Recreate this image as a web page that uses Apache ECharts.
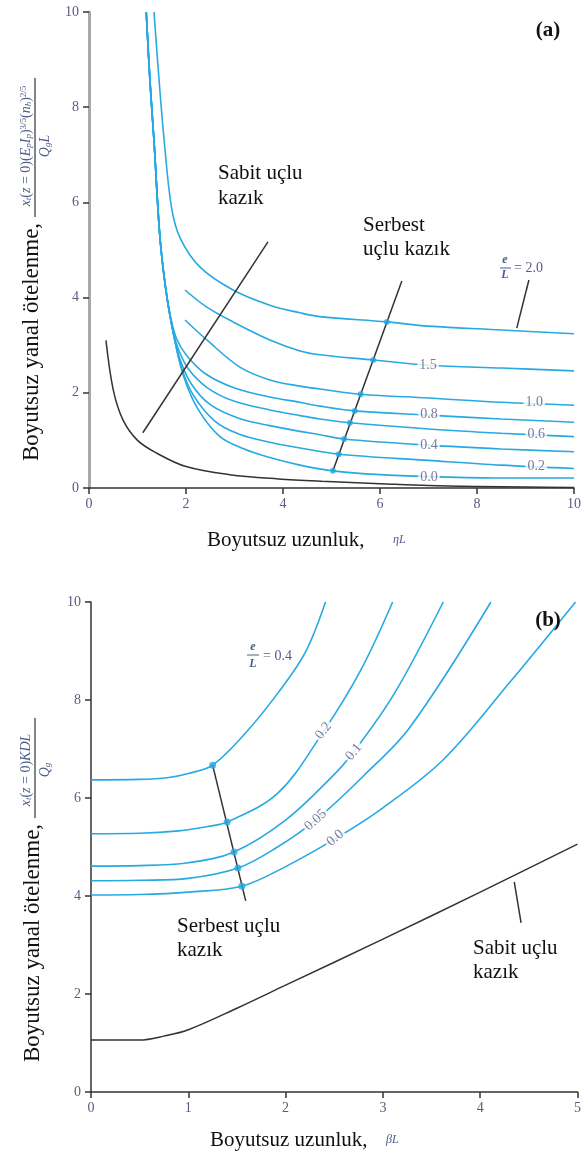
<!DOCTYPE html>
<html><head><meta charset="utf-8">
<script src="https://cdn.jsdelivr.net/npm/echarts@6/dist/echarts.min.js"></script>
<style>html,body{margin:0;padding:0;background:#fff}#c{width:584px;height:1156px}</style>
</head><body><div id="c"></div>
<script>
// ---------- Chart (a) data: x = ηL, y = dimensionless displacement ----------
const aTicksX = [0, 2, 4, 6, 8, 10];
const aTicksY = [0, 2, 4, 6, 8, 10];
const aFixedHead = [[0.35,3.1],[0.5,2.06],[0.7,1.43],[1.0,1.0],[1.4,0.73],[2.0,0.45],[2.9,0.28],[3.9,0.19],[4.8,0.14],[6,0.09],[7,0.05],[8,0.03],[9,0.02],[10,0.01]];
const aE20 = [[1.34,10],[1.45,8.5],[1.55,7.3],[1.7,5.9],[1.88,5.25],[2.29,4.64],[2.97,4.16],[3.73,3.84],[4.35,3.68],[4.76,3.6],[6.14,3.49],[7,3.4],[8.5,3.32],[10,3.24]];
const aE15 = [[1.98,4.16],[2.43,3.8],[2.97,3.49],[3.73,3.11],[4.35,2.88],[4.76,2.8],[5.86,2.69],[7,2.58],[8.5,2.52],[10,2.46]];
const aE10 = [[1.98,3.53],[2.43,3.11],[3.11,2.54],[3.73,2.27],[4.35,2.14],[4.76,2.08],[5.6,1.97],[7,1.89],[8.5,1.8],[10,1.74]];
const aE08 = [[1.18,10],[1.26,8.5],[1.34,7.3],[1.46,5.3],[1.58,4.2],[1.68,3.6],[1.8,3.15],[2.0,2.8],[2.4,2.4],[3.0,2.1],[3.73,1.91],[4.35,1.8],[4.76,1.72],[5.48,1.62],[7,1.53],[8.5,1.45],[10,1.38]];
const aE06 = [[1.18,10],[1.26,8.5],[1.34,7.3],[1.46,5.3],[1.58,4.2],[1.7,3.45],[1.83,2.95],[2.05,2.5],[2.45,2.1],[3.0,1.82],[3.73,1.64],[4.35,1.52],[4.76,1.45],[5.38,1.37],[7,1.24],[8.5,1.15],[10,1.08]];
const aE04 = [[1.18,10],[1.26,8.5],[1.34,7.3],[1.46,5.3],[1.58,4.2],[1.72,3.35],[1.86,2.75],[2.1,2.2],[2.5,1.75],[3.1,1.46],[3.73,1.31],[4.35,1.19],[4.76,1.12],[5.26,1.03],[7,0.9],[8.5,0.82],[10,0.76]];
const aE02 = [[1.18,10],[1.26,8.5],[1.34,7.3],[1.46,5.3],[1.58,4.2],[1.74,3.25],[1.9,2.55],[2.15,1.95],[2.6,1.4],[3.1,1.13],[3.73,0.96],[4.35,0.84],[5.15,0.71],[7,0.58],[8.5,0.48],[10,0.41]];
const aE00 = [[1.18,10],[1.26,8.5],[1.34,7.3],[1.46,5.3],[1.58,4.2],[1.76,3.15],[1.95,2.35],[2.25,1.65],[2.7,1.08],[3.2,0.82],[3.73,0.64],[4.35,0.48],[5.03,0.36],[6,0.28],[7,0.24],[8.5,0.21],[10,0.21]];
const aFreeLine = [[5.03,0.36],[6.45,4.35]];
const aFreeDots = [[6.14,3.49],[5.86,2.69],[5.6,1.97],[5.48,1.62],[5.38,1.37],[5.26,1.03],[5.15,0.71],[5.03,0.36]];
const aFixedLeader = [[1.11,1.16],[3.69,5.17]];
const aE20Leader = [[9.07,4.37],[8.82,3.36]];
const aCurveLabels = ['1.5','1.0','0.8','0.6','0.4','0.2','0.0'];
const aCurveLabelPos = [[6.99,2.58],[9.18,1.79],[7.01,1.55],[9.22,1.13],[7.01,0.9],[9.22,0.46],[7.01,0.23]];

// ---------- Chart (b) data: x = βL ----------
const bTicksX = [0, 1, 2, 3, 4, 5];
const bTicksY = [0, 2, 4, 6, 8, 10];
const bFixedHead = [[0,1.06],[0.5,1.06],[0.75,1.14],[1.0,1.27],[1.5,1.71],[2,2.18],[3,3.12],[4,4.08],[5,5.06]];
const bE04 = [[0,6.37],[0.5,6.38],[0.8,6.42],[1.0,6.5],[1.25,6.67],[1.59,7.33],[1.92,8.14],[2.2,8.96],[2.41,10]];
const bE02 = [[0,5.27],[0.5,5.28],[0.9,5.33],[1.2,5.42],[1.4,5.51],[1.92,6.1],[2.38,7.33],[2.77,8.6],[3.1,10]];
const bE01 = [[0,4.61],[0.5,4.62],[1.0,4.68],[1.47,4.9],[2.0,5.55],[2.46,6.4],[2.70,6.94],[3.12,8.14],[3.62,10]];
const bE005 = [[0,4.31],[0.5,4.32],[1.0,4.36],[1.51,4.57],[1.9,4.98],[2.31,5.55],[2.8,6.45],[3.28,7.45],[4.11,10]];
const bE00 = [[0,4.02],[0.5,4.03],[1.0,4.08],[1.55,4.2],[2.0,4.6],[2.52,5.18],[3.0,5.8],[3.62,6.78],[4.3,8.35],[4.98,10]];
const bFreeLine = [[1.25,6.67],[1.59,3.9]];
const bFreeDots = [[1.25,6.67],[1.40,5.51],[1.47,4.9],[1.51,4.57],[1.55,4.2]];
const bFixedLeader = [[4.35,4.29],[4.42,3.45]];
const bCurveLabels = ['0.2','0.1','0.05','0.0'];
const bCurveLabelPos = [[2.39,7.37],[2.70,6.94],[2.31,5.55],[2.51,5.18]];
const bCurveLabelRot = [52, 50, 42, 40];

// ---------- styling ----------
const BLUE = '#27a9e1';
const DARK = '#333';
const TXT = '#111';
const LBL = '#5b5a83';
const SERIF = '"Liberation Serif", "DejaVu Serif", serif';

function curve(gi, data, color, width, z) {
  return {type:'line', xAxisIndex:gi, yAxisIndex:gi, data:data, showSymbol:false, smooth:0.35,
    lineStyle:{color:color, width:width}, z:z||2, silent:true, clip:true};
}
function straight(gi, data) {
  return {type:'line', xAxisIndex:gi, yAxisIndex:gi, data:data, showSymbol:false, smooth:false,
    lineStyle:{color:DARK, width:1.5}, z:3, silent:true};
}
function dots(gi, data, size) {
  return {type:'scatter', xAxisIndex:gi, yAxisIndex:gi, data:data, symbolSize:size,
    itemStyle:{color:BLUE}, z:5, silent:true};
}
function gapLabels(gi, pos, texts, rots, fs) {
  return {type:'scatter', xAxisIndex:gi, yAxisIndex:gi, symbolSize:1, z:8, silent:true,
    itemStyle:{color:'rgba(0,0,0,0)'},
    data: pos.map((p,i)=>({value:p, label:{show:true, position:'inside', formatter:texts[i],
      rotate: rots ? rots[i] : 0, color:LBL, fontFamily:SERIF, fontSize:fs,
      backgroundColor:'#fff', padding:[0,2]}}))};
}
function xAx(gi, min, max, interval) {
  return {type:'value', gridIndex:gi, min:min, max:max, interval:interval,
    axisLine:{show:true, onZero:false, lineStyle:{color:DARK, width:1.5}},
    axisTick:{show:true, length:6, lineStyle:{color:DARK, width:1.5}},
    axisLabel:{color:LBL, fontFamily:SERIF, fontSize:14, margin:9},
    splitLine:{show:false}};
}
function yAx(gi, lineColor, lineWidth) {
  return {type:'value', gridIndex:gi, min:0, max:10, interval:2,
    axisLine:{show:true, onZero:false, lineStyle:{color:lineColor, width:lineWidth}},
    axisTick:{show:true, length:6, lineStyle:{color:DARK, width:1.5}},
    axisLabel:{color:LBL, fontFamily:SERIF, fontSize:14, margin:10},
    splitLine:{show:false}};
}

const chart = echarts.init(document.getElementById('c'), null, {renderer:'canvas'});

const series = [
  curve(0, aFixedHead, DARK, 1.5, 3),
  curve(0, aE20, BLUE, 1.6), curve(0, aE15, BLUE, 1.6), curve(0, aE10, BLUE, 1.6),
  curve(0, aE08, BLUE, 1.6), curve(0, aE06, BLUE, 1.6), curve(0, aE04, BLUE, 1.6),
  curve(0, aE02, BLUE, 1.6), curve(0, aE00, BLUE, 1.6),
  straight(0, aFreeLine), straight(0, aFixedLeader), straight(0, aE20Leader),
  dots(0, aFreeDots, 6),
  gapLabels(0, aCurveLabelPos, aCurveLabels, null, 14),

  curve(1, bFixedHead, DARK, 1.5, 3),
  curve(1, bE04, BLUE, 1.6), curve(1, bE02, BLUE, 1.6), curve(1, bE01, BLUE, 1.6),
  curve(1, bE005, BLUE, 1.6), curve(1, bE00, BLUE, 1.6),
  straight(1, bFreeLine), straight(1, bFixedLeader),
  dots(1, bFreeDots, 7),
  gapLabels(1, bCurveLabelPos, bCurveLabels, bCurveLabelRot, 14)
];

function T(x, y, text, font, fill, align, extra) {
  const st = {text:text, font:font, fill:fill||TXT, align:align||'left', textAlign:align||'left',
    verticalAlign:'middle', textVerticalAlign:'middle'};
  if (extra) Object.assign(st, extra);
  return {type:'text', x:x, y:y, style:st, z:20};
}
function RT(x, y, text, font, fill, extra) {
  const el = T(x, y, text, font, fill, 'center', extra);
  el.rotation = Math.PI/2;
  return el;
}
function L(x1, y1, x2, y2, color, w) {
  return {type:'line', shape:{x1:x1,y1:y1,x2:x2,y2:y2}, style:{stroke:color||TXT, lineWidth:w||1}, z:20};
}

const FCOL = '#4f5f8c';
const fracRich = {
  i:{fontFamily:SERIF, fontStyle:'italic', fontSize:14, fill:FCOL, color:FCOL},
  n:{fontFamily:SERIF, fontSize:14, fill:FCOL, color:FCOL},
  s:{fontFamily:SERIF, fontStyle:'italic', fontSize:9, fill:FCOL, color:FCOL, verticalAlign:'bottom'},
  u:{fontFamily:SERIF, fontSize:9, fill:FCOL, color:FCOL, verticalAlign:'top'}
};
const smallRich = {
  i:{fontFamily:SERIF, fontStyle:'italic', fontSize:12, fill:FCOL, color:FCOL}
};
const annFont = '21px ' + SERIF;

const graphic = [
  // panel tags
  T(548, 31, '(a)', 'bold 21px ' + SERIF, TXT, 'center'),
  T(548, 621, '(b)', 'bold 21px ' + SERIF, TXT, 'center'),
  // y titles
  RT(32, 342, 'Boyutsuz yanal ötelenme,', '23px ' + SERIF, TXT),
  RT(33, 943, 'Boyutsuz yanal ötelenme,', '23px ' + SERIF, TXT),
  // formula (a)
  RT(26, 146, '{i|x}{s|t}{n|(}{i|z}{n| = 0)(}{i|E}{s|p}{i|I}{s|p}{n|)}{u|3/5}{n|(}{i|n}{s|h}{n|)}{u|2/5}', '14px ' + SERIF, FCOL, {rich:fracRich}),
  L(35, 78, 35, 217, '#333', 1.2),
  RT(45, 146, '{i|Q}{s|g}{i|L}', '14px ' + SERIF, FCOL, {rich:fracRich}),
  // formula (b)
  RT(26, 770, '{i|x}{s|t}{n|(}{i|z}{n| = 0)}{i|KDL}', '14px ' + SERIF, FCOL, {rich:fracRich}),
  L(35, 718, 35, 818, '#333', 1.2),
  RT(45, 770, '{i|Q}{s|g}', '14px ' + SERIF, FCOL, {rich:fracRich}),
  // x titles
  T(207, 540, 'Boyutsuz uzunluk,', annFont, TXT, 'left'),
  T(393, 540, '{i|ηL}', '12px ' + SERIF, FCOL, 'left', {rich:smallRich}),
  T(210, 1140, 'Boyutsuz uzunluk,', annFont, TXT, 'left'),
  T(386, 1140, '{i|βL}', '12px ' + SERIF, FCOL, 'left', {rich:smallRich}),
  // annotations (a)
  T(218, 186, 'Sabit uçlu\nkazık', annFont, TXT, 'left', {lineHeight:25}),
  T(363, 237, 'Serbest\nuçlu kazık', annFont, TXT, 'left', {lineHeight:24}),
  T(505, 260, 'e', 'italic bold 12px ' + SERIF, FCOL, 'center'),
  L(500, 268, 511, 268, FCOL, 1),
  T(505, 275, 'L', 'italic bold 12px ' + SERIF, FCOL, 'center'),
  T(514, 268, '= 2.0', '14px ' + SERIF, LBL, 'left'),
  // annotations (b)
  T(253, 647, 'e', 'italic bold 12px ' + SERIF, FCOL, 'center'),
  L(247, 655, 259, 655, FCOL, 1),
  T(253, 664, 'L', 'italic bold 12px ' + SERIF, FCOL, 'center'),
  T(263, 656, '= 0.4', '14px ' + SERIF, LBL, 'left'),
  T(177, 938, 'Serbest uçlu\nkazık', annFont, TXT, 'left', {lineHeight:24}),
  T(473, 960, 'Sabit uçlu\nkazık', annFont, TXT, 'left', {lineHeight:24})
];

chart.setOption({
  animation:false,
  backgroundColor:'#fff',
  grid:[
    {left:89, top:12, width:485, height:476},
    {left:91, top:602, width:491, height:490}
  ],
  xAxis:[xAx(0, aTicksX[0], aTicksX[aTicksX.length-1], aTicksX[1]-aTicksX[0]),
         xAx(1, bTicksX[0], bTicksX[bTicksX.length-1], bTicksX[1]-bTicksX[0])],
  yAxis:[yAx(0, '#a8a8a8', 3), yAx(1, DARK, 1.5)],
  series:series,
  graphic:graphic
});
</script></body></html>
